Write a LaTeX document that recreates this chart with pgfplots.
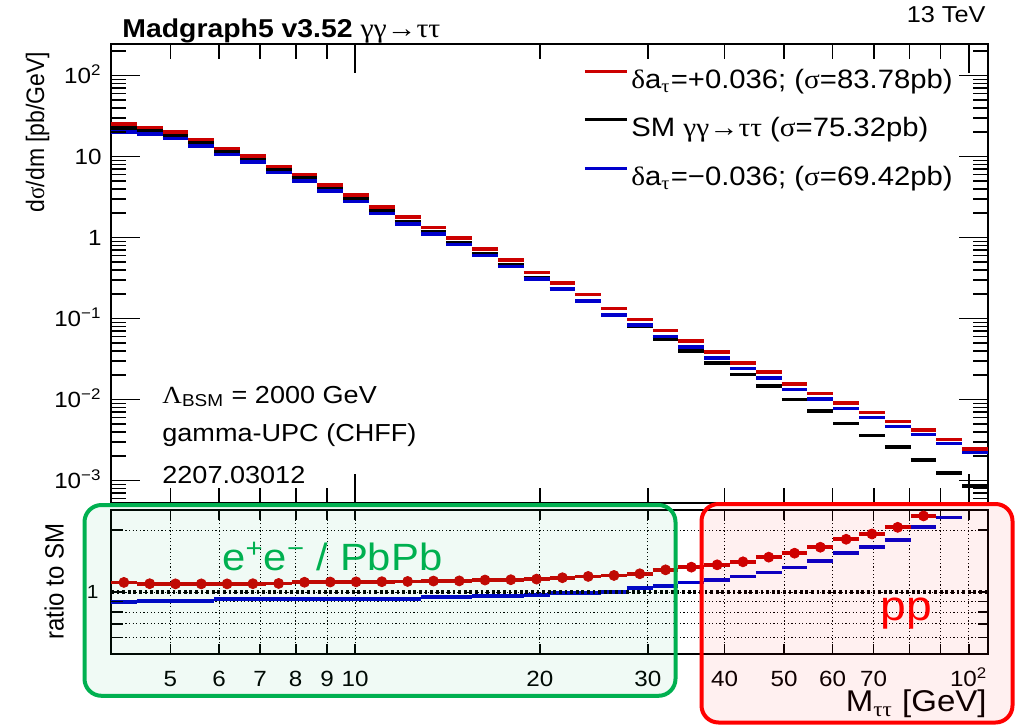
\documentclass[border=0pt]{standalone}
\usepackage{fontspec}
\setmainfont{Liberation Sans}
\newfontfamily\gr{Liberation Serif}
\usepackage{graphicx}
\usepackage{pgfplots}
\pgfplotsset{compat=1.18}
\usepackage{pgfplotstable}
\newcommand\sx[1]{\scalebox{1.1}[1]{#1}}
\newcommand\sy[1]{\scalebox{1}[1.1]{#1}}
\newcommand\fs[1]{\fontsize{#1}{#1}\selectfont}
\definecolor{hred}{RGB}{204,0,0}
\definecolor{hblue}{RGB}{0,0,204}
\definecolor{boxgreen}{RGB}{0,176,80}
\definecolor{boxred}{RGB}{255,0,0}

\pgfplotstableread{
lo xc sm red blue rred rblue rredm
4.0000 4.1984 22.6 25.15 20.14 1.113 0.891 1.113
4.4066 4.6251 20.9 22.93 18.98 1.097 0.908 1.097
4.8544 5.0951 18.4 20.15 16.71 1.095 0.908 1.095
5.3479 5.6131 14.9 16.32 13.53 1.095 0.908 1.095
5.8914 6.1835 11.5 12.59 10.67 1.095 0.928 1.095
6.4902 6.8121 9.29 10.19 8.621 1.097 0.928 1.097
7.1499 7.5044 6.85 7.535 6.357 1.100 0.928 1.100
7.8766 8.2672 5.41 6.032 5.020 1.115 0.928 1.115
8.6772 9.1075 4.03 4.506 3.740 1.118 0.928 1.118
9.5592 10.033 3.01 3.371 2.793 1.120 0.928 1.120
10.531 11.053 2.14 2.401 1.986 1.122 0.928 1.122
11.601 12.176 1.59 1.789 1.476 1.125 0.928 1.125
12.780 13.414 1.185 1.339 1.116 1.130 0.942 1.130
14.079 14.777 0.873 0.9882 0.8224 1.132 0.942 1.132
15.510 16.279 0.629 0.7189 0.6001 1.143 0.954 1.143
17.087 17.934 0.460 0.5276 0.4388 1.147 0.954 1.147
18.823 19.756 0.321 0.3708 0.3114 1.155 0.970 1.155
20.737 21.765 0.237 0.2780 0.2334 1.173 0.985 1.173
22.844 23.977 0.167 0.1987 0.1645 1.190 0.985 1.190
25.166 26.414 0.111 0.1335 0.1110 1.203 1.000 1.203
27.724 29.099 0.0797 0.09771 0.08297 1.226 1.041 1.226
30.542 32.057 0.0561 0.07186 0.06020 1.281 1.073 1.281
33.646 35.315 0.0399 0.05267 0.04441 1.320 1.113 1.320
37.066 38.904 0.0284 0.03848 0.03246 1.355 1.143 1.355
40.834 42.859 0.0204 0.02858 0.02428 1.401 1.190 1.401
44.983 47.214 0.0148 0.02184 0.01840 1.476 1.243 1.476
49.555 52.013 0.0101 0.01558 0.01328 1.543 1.315 1.543
54.592 57.300 0.00725 0.01196 0.01024 1.649 1.412 1.649
60.140 63.124 0.00506 0.009123 0.007808 1.803 1.543 1.803
66.252 69.538 0.00363 0.006944 0.006008 1.913 1.655 1.913
72.986 76.606 0.00261 0.005377 0.004669 2.060 1.789 2.060
80.404 84.392 0.00180 0.004212 0.003708 2.340 2.060 2.340
88.577 92.969 0.00125 0.003213 0.002875 2.570 2.300 nan
97.580 102.42 0.00086 0.002477 0.002236 2.880 2.600 nan
107.50 nan 0.00086 0.002477 0.002236 2.880 2.600 nan
}\datatab

\begin{document}
\begin{tikzpicture}
\useasboundingbox (0pt,0pt) rectangle (508.5pt,362.5pt);

% upper panel frame A: x ticks only (short ticks)
\begin{axis}[
  at={(55.5pt,111pt)}, anchor=south west, scale only axis,
  width=438.5pt, height=229.5pt,
  xmode=log, ymode=log, xmin=4, xmax=107.5, ymin=5.3e-4, ymax=246,
  axis line style={line width=0.7pt},
  tick style={black, line width=0.8pt},
  xtick={10,100}, minor xtick={4,5,6,7,8,9,20,30,40,50,60,70,80,90},
  xticklabels={},
  ytick={}, yticklabels={},
  major tick length=6.5pt, minor tick length=3.9pt,
]
\addplot[draw=none, forget plot] coordinates {(5,1) (50,1)};
\end{axis}

% upper panel frame B: y tick labels
\begin{axis}[
  at={(55.5pt,111pt)}, anchor=south west, scale only axis,
  width=438.5pt, height=229.5pt,
  xmode=log, ymode=log, xmin=4, xmax=107.5, ymin=5.3e-4, ymax=246,
  axis line style={line width=0.7pt},
  tick style={black, line width=0.8pt},
  xtick={}, xticklabels={},
  ytick={0.001,0.01,0.1,1,10,100},
  yticklabels={\sx{10\textsuperscript{−3}},\sx{10\textsuperscript{−2}},\sx{10\textsuperscript{−1}},\sx{1},\sx{10},\sx{10\textsuperscript{2}}},
  minor ytick={6e-4,7e-4,8e-4,9e-4,0.002,0.003,0.004,0.005,0.006,0.007,0.008,0.009,0.02,0.03,0.04,0.05,0.06,0.07,0.08,0.09,0.2,0.3,0.4,0.5,0.6,0.7,0.8,0.9,2,3,4,5,6,7,8,9,20,30,40,50,60,70,80,90,200},
  major tick length=14.5pt, minor tick length=7.5pt,
  yticklabel style={font=\fs{11}, inner sep=0pt, xshift=-4.5pt, text height=7.9pt, text depth=0pt},
]
\addplot[draw=none, forget plot] coordinates {(5,1) (50,1)};
\end{axis}

% upper panel: data and legend
\begin{axis}[
  at={(55.5pt,111pt)}, anchor=south west, scale only axis,
  width=438.5pt, height=229.5pt,
  xmode=log, ymode=log, xmin=4, xmax=107.5, ymin=5.3e-4, ymax=246,
  axis line style={line width=0.7pt},
  xtick={}, xticklabels={}, ytick={}, yticklabels={},
  major tick length=0pt, minor tick length=0pt,
  legend style={at={(0.538,0.974)}, anchor=north west, draw=none, fill=none, inner sep=0pt, row sep=0pt,
    font=\fs{13.3}, nodes={inner sep=0pt, text height=16pt, text depth=8.25pt}},
  legend image code/.code={\draw[#1] (0pt,4.6pt) -- (21pt,4.6pt); \path (22.5pt,4.6pt);},
  legend cell align=left,
]
\addplot[black, line width=1.8pt, jump mark left, forget plot] table[x=lo, y=sm]{\datatab};
\addplot[hred, line width=1.8pt, jump mark left, forget plot] table[x=lo, y=red]{\datatab};
\addplot[hblue, line width=1.8pt, jump mark left, forget plot] table[x=lo, y=blue]{\datatab};
\addlegendimage{hred, line width=1.6pt}
\addlegendentry{\sx{{\gr δ}a\textsubscript{\gr τ}=+0.036; ({\gr σ}=83.78pb)}}
\addlegendimage{black, line width=1.6pt}
\addlegendentry{\sx{SM {\gr γγ→ττ} ({\gr σ}=75.32pb)}}
\addlegendimage{hblue, line width=1.6pt}
\addlegendentry{\sx{{\gr δ}a\textsubscript{\gr τ}=−0.036; ({\gr σ}=69.42pb)}}
\end{axis}

% ratio panel
\begin{axis}[
  at={(55.5pt,35.5pt)}, anchor=south west, scale only axis,
  width=438.5pt, height=72pt,
  xmode=log, ymode=log, xmin=4, xmax=107.5, ymin=0.5, ymax=2.5,
  axis line style={line width=0.7pt},
  xtick={5,6,7,8,9,10,20,30,40,50,60,70,80,90,100},
  xticklabels={\sx{5},\sx{6},\sx{7},\sx{8},\sx{9},\sx{10},\sx{20},\sx{30},\sx{40},\sx{50},\sx{60},\sx{70},,,\sx{10\textsuperscript{2}}},
  ytick={1}, yticklabels={\sx{1}},
  minor ytick={0.6,0.7,0.8,0.9,2},
  xmajorgrids=true, ymajorgrids=true, yminorgrids=true,
  major grid style={black, line width=0.45pt, dash pattern=on 0.6pt off 1.2pt},
  minor grid style={black, line width=0.45pt, dash pattern=on 0.6pt off 1.2pt},
  tick style={black, line width=0.8pt},
  major tick length=5pt, minor tick length=5pt,
  xticklabel style={font=\fs{11}, inner sep=0pt, yshift=-8pt, text height=7.9pt, text depth=0pt},
  yticklabel style={font=\fs{9.5}, inner sep=0pt, xshift=-6pt, text height=6.8pt, text depth=0pt},
]
\addplot[hblue, line width=1.9pt, jump mark left] table[x=lo, y=rblue]{\datatab};
\addplot[hred, line width=1.9pt, jump mark left] table[x=lo, y=rred]{\datatab};
\addplot[hred, only marks, mark=*, mark size=2.5pt] table[x=xc, y=rredm]{\datatab};
\addplot[black, line width=1.6pt, dash pattern=on 1.4pt off 1.4pt] coordinates {(4,1) (107.5,1)};
\end{axis}

% y-axis tick marks of the upper panel (frame decoration, log10 positions)
\foreach \L in {-3,-2,-1,0,1,2}{
  \draw[black, line width=0.8pt] (55.5pt,{111pt+40.5pt*(\L+3.2757)}) -- ++(14.5pt,0pt);
  \draw[black, line width=0.8pt] (494pt,{111pt+40.5pt*(\L+3.2757)}) -- ++(-14.5pt,0pt);
}
\foreach \L in {-3,-2,-1,0,1}{
  \foreach \o in {0.30103,0.47712,0.60206,0.69897,0.77815,0.84510,0.90309,0.95424}{
    \draw[black, line width=0.8pt] (55.5pt,{111pt+40.5pt*(\L+\o+3.2757)}) -- ++(7.5pt,0pt);
    \draw[black, line width=0.8pt] (494pt,{111pt+40.5pt*(\L+\o+3.2757)}) -- ++(-7.5pt,0pt);
  }
}
\foreach \v in {-3.2218,-3.1549,-3.0969,-3.0458,2.30103}{
  \draw[black, line width=0.8pt] (55.5pt,{111pt+40.5pt*(\v+3.2757)}) -- ++(7.5pt,0pt);
  \draw[black, line width=0.8pt] (494pt,{111pt+40.5pt*(\v+3.2757)}) -- ++(-7.5pt,0pt);
}
% y-axis tick marks of the ratio panel
\foreach \v in {-0.22185,-0.15490,-0.09691,-0.04576,0,0.30103}{
  \draw[black, line width=0.8pt] (55.5pt,{35.5pt+103.01pt*(\v+0.30103)}) -- ++(6pt,0pt);
  \draw[black, line width=0.8pt] (494pt,{35.5pt+103.01pt*(\v+0.30103)}) -- ++(-5pt,0pt);
}

% texts
\node[anchor=base west, inner sep=0pt] at (61pt,343.5pt) {\fs{12.9}\sx{\textbf{Madgraph5 v3.52} {\gr\fs{13.5}γγ→ττ}}};
\node[anchor=base east, inner sep=0pt] at (493pt,351.5pt) {\fs{11.5}\sx{13 TeV}};
\node[anchor=base west, inner sep=0pt] at (81pt,161pt) {\fs{12.3}\sx{{\gr Λ}\textsubscript{BSM} = 2000 GeV}};
\node[anchor=base west, inner sep=0pt] at (81pt,141.6pt) {\fs{12.3}\sx{gamma-UPC (CHFF)}};
\node[anchor=base west, inner sep=0pt] at (81pt,121pt) {\fs{12.3}\sx{2207.03012}};
\node[rotate=90, inner sep=0pt] at (18.75pt,296.5pt) {\fs{11.5}\sy{d{\gr σ}/dm [pb/GeV]}};
\node[rotate=90, inner sep=0pt] at (27.1pt,71.75pt) {\fs{12}\sy{ratio to SM}};
\node[anchor=base east, inner sep=0pt] at (493.5pt,6.6pt) {\fs{15}\sx{M\textsubscript{\gr ττ} [GeV]}};

% highlight boxes
\draw[boxgreen, line width=2pt, rounded corners=8.5pt, fill=boxgreen, fill opacity=0.06] (42.25pt,14.6pt) rectangle (337.75pt,110pt);
\node[anchor=base west, inner sep=0pt, text=boxgreen] at (111pt,77.5pt) {\fs{19}\sx{e\textsuperscript{+}e\textsuperscript{−} / PbPb}};
\draw[boxred, line width=2pt, rounded corners=8.5pt, fill=boxred, fill opacity=0.06] (350.75pt,1.25pt) rectangle (506.25pt,110.5pt);
\node[anchor=base west, inner sep=0pt, text=boxred] at (440pt,52.2pt) {\fs{21}\sx{pp}};
\end{tikzpicture}
\end{document}
